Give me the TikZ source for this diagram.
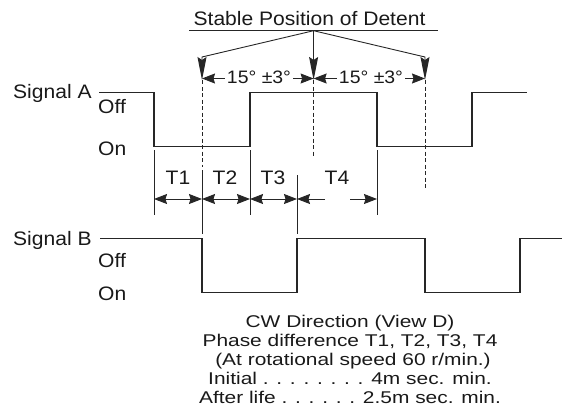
\documentclass[tikz,border=0pt]{standalone}
\usepackage{fontspec}
\setmainfont{Liberation Sans}
\newfontfamily\labfont{Liberation Sans}[FakeStretch=1.08]
\newfontfamily\btmfont{Liberation Sans}[FakeStretch=1.23]
\usetikzlibrary{arrows.meta}
\begin{document}
\begin{tikzpicture}[x=1pt,y=-1pt,
  lab/.style={font=\labfont\fontsize{19.5}{22}\selectfont, inner sep=0pt, text=black!90},
  deg/.style={font=\labfont\fontsize{18}{20}\selectfont, inner xsep=2pt, inner ysep=0pt, fill=white, text=black!90},
  btm/.style={font=\btmfont\fontsize{17}{19}\selectfont, inner sep=0pt, text=black!90},
  sig/.style={line width=1.1pt, draw=black!85, line join=miter},
  ext/.style={line width=0.9pt, draw=black!85},
  dsh/.style={line width=0.9pt, draw=black!85, dash pattern=on 4pt off 2.5pt},
  tipA/.tip={Stealth[length=13pt,width=10pt,inset=1.5pt]},
  dimarr/.style={line width=0.9pt, draw=black!85, tipA-tipA},
  onearr/.style={line width=0.9pt, draw=black!85, -tipA},
  bigarr/.style={line width=0.9pt, draw=black!85, line join=miter, -{Stealth[length=23pt,width=9pt,inset=3pt]}}]
\useasboundingbox (0,0) rectangle (562,416);

% ---- title and stable-position pointers
\node[lab, anchor=base] (title) at (309.5,25) {Stable Position of Detent};
\coordinate (ulL) at (189,30.7);
\coordinate (ulR) at (438,30.7);
\coordinate (apex) at (313.6,30.7);
\draw[ext] (ulL) -- (ulR);
\coordinate (bendL) at (202,57);
\coordinate (bendR) at (425,57);
\coordinate (tipL) at (202,80);
\coordinate (tipM) at (313.6,80);
\coordinate (tipR) at (425,80);
\draw[bigarr] (apex) -- (bendL) -- (tipL);
\draw[bigarr] (apex) -- (tipM);
\draw[bigarr] (apex) -- (bendR) -- (tipR);

% ---- 15 deg dimensions
\coordinate (dL) at (202,78.5);
\coordinate (dM) at (313.6,78.5);
\coordinate (dR) at (425,78.5);
\draw[dimarr] (dL) -- (dM);
\draw[dimarr] (dM) -- (dR);
\node[deg, anchor=base] (deg1) at (259,83) {15° ±3°};
\node[deg, anchor=base] (deg2) at (371,83) {15° ±3°};

% ---- dashed position lines
\coordinate (dsL) at (202,80);
\coordinate (deL) at (202,167);
\coordinate (dsM) at (313.6,80);
\coordinate (deM) at (313.6,157);
\coordinate (dsR) at (425,80);
\coordinate (deR) at (425,190);
\draw[dsh] (dsL) -- (deL);
\draw[dsh] (dsM) -- (deM);
\draw[dsh] (dsR) -- (deR);

% ---- signal labels
\node[lab, anchor=base west] (sigA) at (13,98) {Signal A};
\node[lab, anchor=base west] (offA) at (98,113) {Off};
\node[lab, anchor=base west] (onA) at (98,155) {On};
\node[lab, anchor=base west] (sigB) at (13,245) {Signal B};
\node[lab, anchor=base west] (offB) at (98,267) {Off};
\node[lab, anchor=base west] (onB) at (98,300) {On};

% ---- waveforms
\draw[sig] (99,92.7) -- (154,92.7) -- (154,146.5) -- (250,146.5) -- (250,92.7)
  -- (377,92.7) -- (377,146.5) -- (472,146.5) -- (472,92.7) -- (527,92.7);
\draw[sig] (100,238.3) -- (202,238.3) -- (202,292.3) -- (297,292.3) -- (297,238.3)
  -- (425,238.3) -- (425,292.3) -- (520,292.3) -- (520,238.3) -- (562,238.3);

% ---- extension lines
\coordinate (e1t) at (154,150); \coordinate (e1b) at (154,215);
\coordinate (e2t) at (202,170); \coordinate (e2b) at (202,234);
\coordinate (e3t) at (250,150); \coordinate (e3b) at (250,215);
\coordinate (e4t) at (297,175); \coordinate (e4b) at (297,234);
\coordinate (e5t) at (377,150); \coordinate (e5b) at (377,215);
\draw[ext] (e1t) -- (e1b);
\draw[ext] (e2t) -- (e2b);
\draw[ext] (e3t) -- (e3b);
\draw[ext] (e4t) -- (e4b);
\draw[ext] (e5t) -- (e5b);

% ---- T dimensions
\coordinate (t0) at (154,199);
\coordinate (t1) at (202,199);
\coordinate (t2) at (250,199);
\coordinate (t3) at (297,199);
\coordinate (t4a) at (325,199);
\coordinate (t4b) at (350,199);
\coordinate (t5) at (377,199);
\draw[dimarr] (t0) -- (t1);
\draw[dimarr] (t1) -- (t2);
\draw[dimarr] (t2) -- (t3);
\draw[onearr] (t4a) -- (t3);
\draw[onearr] (t4b) -- (t5);
\node[lab, anchor=base] (T1) at (178,184) {T1};
\node[lab, anchor=base] (T2) at (225,184) {T2};
\node[lab, anchor=base] (T3) at (273,184) {T3};
\node[lab, anchor=base] (T4) at (337,184) {T4};

% ---- notes
\node[btm, anchor=base] (n1) at (350,327) {CW Direction (View D)};
\node[btm, anchor=base] (n2) at (350,346) {Phase difference T1, T2, T3, T4};
\node[btm, anchor=base] (n3) at (353,365) {(At rotational speed 60 r/min.)};
\node[btm, anchor=base] (n4) at (350,384) {Initial . . . . . . . . 4m sec. min.};
\node[btm, anchor=base] (n5) at (350,403) {After life . . . . . . 2.5m sec. min.};
\end{tikzpicture}
\end{document}
